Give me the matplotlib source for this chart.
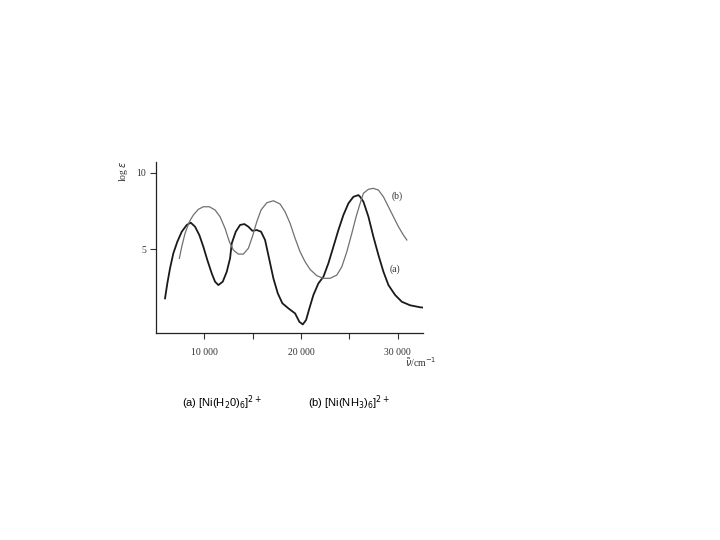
import matplotlib
matplotlib.use("Agg")
import matplotlib.pyplot as plt

# curve (a) [Ni(H2O)6]2+
a_x = [5944, 6182, 6461, 6803, 7217, 7672, 8189, 8603, 9048, 9493, 9907, 10321,
       10776, 11117, 11459, 11914, 12328, 12670, 12845, 13259, 13704, 14149, 14563,
       14977, 15432, 15877, 16291, 16705, 17150, 17605, 18081, 18702, 19395, 19840,
       20192, 20533, 20875, 21289, 21806, 22323, 22841, 23358, 23875, 24393, 24910,
       25427, 25945, 26121, 26462, 26980, 27497, 28014, 28532, 29049, 29742, 30435,
       31294, 32329, 32640]
a_y = [1.80, 2.78, 3.76, 4.74, 5.50, 6.15, 6.59, 6.74, 6.48, 5.93, 5.17, 4.30,
       3.43, 2.89, 2.67, 2.89, 3.54, 4.41, 5.39, 6.15, 6.59, 6.65, 6.48,
       6.21, 6.26, 6.15, 5.61, 4.41, 3.11, 2.13, 1.48, 1.15, 0.82, 0.27,
       0.10, 0.39, 1.15, 2.02, 2.78, 3.21, 4.09, 5.17, 6.26, 7.24, 8.00,
       8.43, 8.54, 8.43, 8.11, 7.13, 5.82, 4.63, 3.54, 2.67, 2.02, 1.58,
       1.35, 1.22, 1.20]

# curve (b) [Ni(NH3)6]2+
b_x = [7424, 7672, 8013, 8458, 8872, 9390, 9907, 10528, 11117, 11635, 12152, 12597,
       13011, 13528, 14046, 14563, 14977, 15432, 15877, 16467, 17150, 17843, 18360,
       18878, 19395, 19912, 20430, 20947, 21640, 22323, 23016, 23710, 24227, 24745,
       25262, 25707, 26048, 26462, 26980, 27497, 28014, 28532, 29049, 29566, 30084,
       30601, 30953]
b_y = [4.41, 5.17, 6.04, 6.80, 7.24, 7.61, 7.78, 7.78, 7.57, 7.13, 6.37, 5.50,
       4.95, 4.69, 4.69, 5.07, 5.82, 6.80, 7.57, 8.04, 8.17, 7.96, 7.45,
       6.70, 5.72, 4.84, 4.19, 3.69, 3.28, 3.11, 3.11, 3.32, 3.86, 4.84,
       6.04, 7.13, 7.85, 8.66, 8.92, 8.98, 8.87, 8.43, 7.78, 7.13, 6.48,
       5.93, 5.61]

x_ticks = [10000, 15000, 20000, 25000, 30000]
x_labels = ["10 000", "", "20 000", "", "30 000"]
y_ticks = [5, 10]
y_labels = ["5", "10"]

fig = plt.figure(figsize=(7.2, 5.4), dpi=100)
ax = fig.add_axes([0.2167, 0.3833, 0.371, 0.3167])

ax.plot(a_x, a_y, color="#1a1a1a", lw=1.3, solid_joinstyle="round")
ax.plot(b_x, b_y, color="#707070", lw=0.9, solid_joinstyle="round")

ax.set_xlim(5013, 32640)
ax.set_ylim(-0.46, 10.7)
ax.spines["top"].set_visible(False)
ax.spines["right"].set_visible(False)
for s in ["left", "bottom"]:
    ax.spines[s].set_color("#222222")
    ax.spines[s].set_linewidth(0.9)

serif = "Liberation Serif"
ax.set_xticks(x_ticks)
ax.set_xticklabels(x_labels, fontsize=7, family=serif, color="#333333")
ax.set_yticks(y_ticks)
ax.set_yticklabels(y_labels, fontsize=7, family=serif, color="#333333")
ax.tick_params(direction="out", length=4, width=0.8, color="#333333")
ax.tick_params(axis="x", pad=7)
ax.tick_params(axis="y", pad=3)

fig.text(392 / 720, 1 - 196 / 540, "(b)", fontsize=7, family=serif, color="#333333",
         ha="left", va="center")
fig.text(390 / 720, 1 - 269 / 540, "(a)", fontsize=7, family=serif, color="#333333",
         ha="left", va="center")
fig.text(436 / 720, 1 - 362 / 540, r"$\tilde{\nu}$/cm$^{-1}$", fontsize=7, family=serif,
         color="#333333", ha="right", va="center")
fig.text(124 / 720, 1 - 171 / 540, r"log $\varepsilon$", fontsize=7, family=serif,
         color="#333333", rotation=90, ha="center", va="center")

fig.text(182 / 720, 1 - 403 / 540, r"(a) [Ni(H$_2$0)$_6$]$^{2+}$", fontsize=8,
         family="Liberation Sans", ha="left", va="center")
fig.text(308 / 720, 1 - 403 / 540, r"(b) [Ni(NH$_3$)$_6$]$^{2+}$", fontsize=8,
         family="Liberation Sans", ha="left", va="center")

fig.savefig("out.png", dpi=100)
